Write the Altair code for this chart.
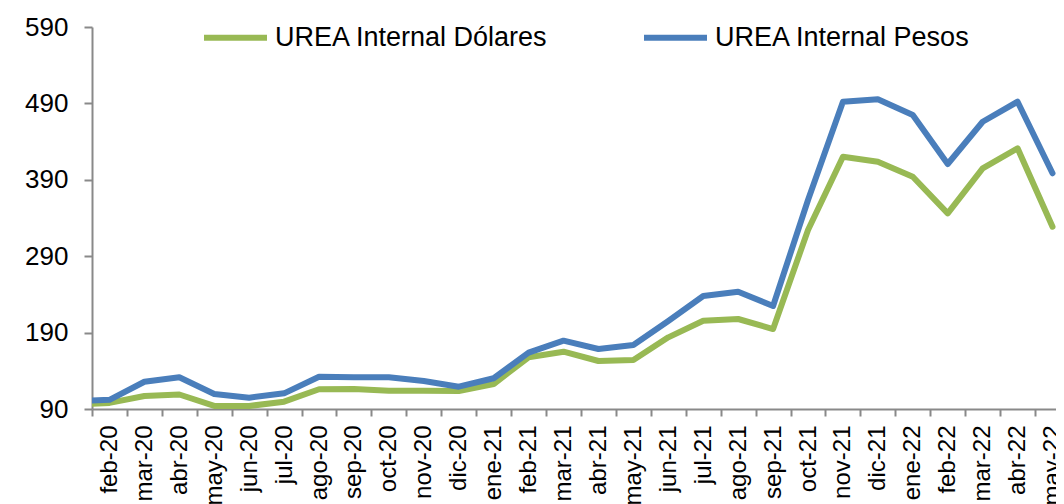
import altair as alt
import pandas as pd

# months (first entry is the partially visible point left of the axis)
months = ["ene-20", "feb-20", "mar-20", "abr-20", "may-20", "jun-20", "jul-20", "ago-20",
          "sep-20", "oct-20", "nov-20", "dic-20", "ene-21", "feb-21", "mar-21", "abr-21",
          "may-21", "jun-21", "jul-21", "ago-21", "sep-21", "oct-21", "nov-21", "dic-21",
          "ene-22", "feb-22", "mar-22", "abr-22", "may-22"]
axis_labels = months[1:]

dolares = [96, 98, 107, 109, 94, 94, 99.6, 115.8, 116.2, 114, 114, 113.6, 122.7, 157.7,
           165, 152.8, 154.1, 183.8, 205.6, 207.8, 194.7, 324.3, 420.2, 413.7, 394,
           346.1, 405, 431.2, 328.6]
pesos = [100.5, 102, 125.7, 131.5, 109.6, 104.8, 110.5, 132.3, 131.5, 131.5, 126.6, 119.2,
         130.2, 163.7, 179.4, 168.5, 173.8, 205.2, 237.9, 243.5, 224.8, 363.6, 492.2,
         495.4, 474.8, 410.7, 466, 492.2, 398.5]

series_names = ["UREA Internal Dólares", "UREA Internal Pesos"]
series_colors = ["#98B954", "#4A7EBB"]
y_ticks = [90, 190, 290, 390, 490, 590]

rows = []
for name, vals in zip(series_names, [dolares, pesos]):
    for i, (m, v) in enumerate(zip(months, vals)):
        rows.append({"month": m, "idx": i - 1, "value": v, "series": name})
df = pd.DataFrame(rows)

FONT = "Liberation Sans"
GRAY = "#898989"
x_max = 27.1
W = 964
step = W / (x_max + 0.5)

label_js = "[" + ",".join("'%s'" % m for m in axis_labels) + "]"
tick_values = [k - 0.5 for k in range(len(axis_labels))]

chart = alt.Chart(df).mark_line(
    strokeWidth=6, strokeCap="round", strokeJoin="round", clip=True
).encode(
    x=alt.X("idx:Q",
            scale=alt.Scale(domain=[-0.5, x_max], nice=False, zero=False),
            axis=alt.Axis(values=tick_values,
                          labelExpr=label_js + "[round(datum.value + 0.5)]",
                          labelOffset=step / 2,
                          labelAngle=-90, labelAlign="right", labelBaseline="middle",
                          labelPadding=9, labelFontSize=24, labelFont=FONT,
                          labelColor="#000000", labelFlush=False, labelOverlap=False,
                          labelLimit=300,
                          grid=False, domainColor=GRAY, domainWidth=2,
                          tickColor=GRAY, tickWidth=2, tickSize=7, title=None)),
    y=alt.Y("value:Q",
            scale=alt.Scale(domain=[90, 590], nice=False, zero=False),
            axis=alt.Axis(values=y_ticks, grid=False, labelFontSize=26, labelFont=FONT,
                          labelColor="#000000", labelPadding=16,
                          domainColor=GRAY, domainWidth=2, tickColor=GRAY,
                          tickWidth=2, tickSize=8, title=None)),
    color=alt.Color("series:N",
                    scale=alt.Scale(domain=series_names, range=series_colors),
                    legend=alt.Legend(orient="none", legendX=109, legendY=-24,
                                      direction="horizontal", title=None,
                                      symbolType="stroke", symbolSize=3969,
                                      symbolStrokeWidth=6, labelFontSize=27,
                                      labelFont=FONT, labelColor="#000000",
                                      labelLimit=600,
                                      labelOffset=5, columnPadding=83, padding=0)),
).properties(
    width=W, height=382,
    autosize=alt.AutoSizeParams(type="none"),
    padding={"left": 84, "top": 19, "right": 0, "bottom": 95},
).configure_view(strokeWidth=0)

chart.save("out.html", embed_options={"renderer": "svg", "actions": False})
